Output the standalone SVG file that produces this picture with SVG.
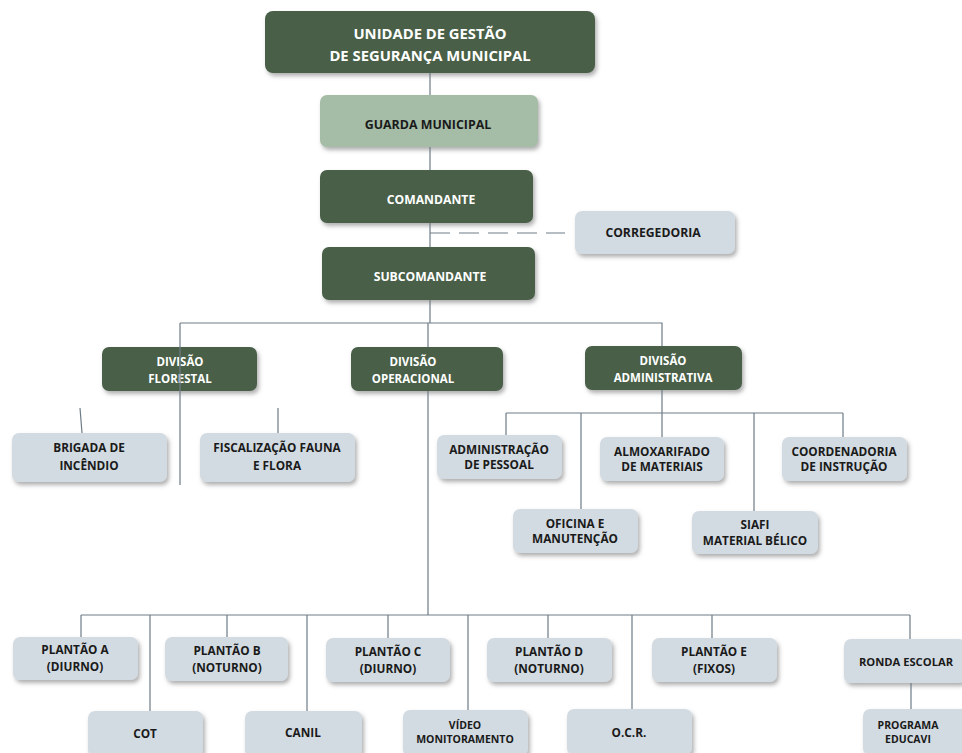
<svg xmlns="http://www.w3.org/2000/svg" width="962" height="753" viewBox="0 0 962 753">
<defs>
<filter id="sh" x="-10%" y="-20%" width="130%" height="160%">
<feDropShadow dx="2" dy="3" stdDeviation="2" flood-color="#7a7a7a" flood-opacity="0.6"/>
</filter>
<style>
.dk{fill:#485f47;filter:url(#sh)}
.lg{fill:#a5bda6;filter:url(#sh)}
.gr{fill:#d3dbe2;filter:url(#sh)}
text{font-family:"Open Sans","Liberation Sans",sans-serif;font-weight:bold;text-anchor:middle}
.w{fill:#ffffff;font-size:11.5px}
.wb{fill:#ffffff;font-size:14.8px}
.b{fill:#1a1a1a;font-size:11.8px}
.s{font-size:10.5px}
.ln{stroke:#6e7c87;stroke-width:1.2;fill:none}
</style>
</defs>
<rect width="962" height="753" fill="#ffffff"/>
<g id="n-unidade"><rect class="dk" x="265" y="11" width="330" height="62" rx="8"/><text class="wb" x="430" y="39">UNIDADE DE GESTÃO</text><text class="wb" x="430" y="61">DE SEGURANÇA MUNICIPAL</text></g>
<g id="n-guarda"><rect class="lg" x="320" y="95" width="218" height="52" rx="7"/><text class="b" x="428" y="129" style="font-size:12.4px">GUARDA MUNICIPAL</text></g>
<g id="n-comandante"><rect class="dk" x="320" y="170" width="213" height="53" rx="7"/><text class="w" x="431" y="204" style="font-size:12.2px">COMANDANTE</text></g>
<g id="n-corregedoria"><rect class="gr" x="575" y="211" width="160" height="43" rx="7"/><text class="b" x="653" y="237" style="font-size:12.2px">CORREGEDORIA</text></g>
<g id="n-subcomandante"><rect class="dk" x="322" y="247" width="213" height="53" rx="7"/><text class="w" x="430" y="281" style="font-size:12.2px">SUBCOMANDANTE</text></g>
<g id="n-florestal"><rect class="dk" x="102" y="347" width="155" height="44" rx="7"/><text class="w" x="180" y="366">DIVISÃO</text><text class="w" x="180" y="383">FLORESTAL</text></g>
<g id="n-operacional"><rect class="dk" x="351" y="347" width="152" height="44" rx="7"/><text class="w" x="413" y="366">DIVISÃO</text><text class="w" x="413" y="383">OPERACIONAL</text></g>
<g id="n-administrativa"><rect class="dk" x="585" y="346" width="157" height="44" rx="7"/><text class="w" x="663" y="365">DIVISÃO</text><text class="w" x="663" y="382">ADMINISTRATIVA</text></g>
<g id="n-brigada"><rect class="gr" x="12" y="433" width="155" height="49" rx="7"/><text class="b" x="89" y="452">BRIGADA DE</text><text class="b" x="89" y="470">INCÊNDIO</text></g>
<g id="n-fiscalizacao"><rect class="gr" x="200" y="433" width="155" height="49" rx="7"/><text class="b" x="277" y="452">FISCALIZAÇÃO FAUNA</text><text class="b" x="277" y="470">E FLORA</text></g>
<g id="n-admpessoal"><rect class="gr" x="437" y="435" width="125" height="44" rx="7"/><text class="b" x="499" y="454">ADMINISTRAÇÃO</text><text class="b" x="499" y="469">DE PESSOAL</text></g>
<g id="n-almoxarifado"><rect class="gr" x="600" y="437" width="124" height="44" rx="7"/><text class="b" x="662" y="456">ALMOXARIFADO</text><text class="b" x="662" y="471">DE MATERIAIS</text></g>
<g id="n-coordenadoria"><rect class="gr" x="782" y="437" width="125" height="44" rx="7"/><text class="b" x="844" y="456">COORDENADORIA</text><text class="b" x="844" y="471">DE INSTRUÇÃO</text></g>
<g id="n-oficina"><rect class="gr" x="513" y="509" width="125" height="44" rx="7"/><text class="b" x="575" y="528">OFICINA E</text><text class="b" x="575" y="543">MANUTENÇÃO</text></g>
<g id="n-siafi"><rect class="gr" x="692" y="511" width="126" height="43" rx="7"/><text class="b" x="755" y="529">SIAFI</text><text class="b" x="755" y="545">MATERIAL BÉLICO</text></g>
<g id="n-plantaoa"><rect class="gr" x="13" y="637" width="125" height="43" rx="7"/><text class="b" x="75" y="654">PLANTÃO A</text><text class="b" x="75" y="671">(DIURNO)</text></g>
<g id="n-plantaob"><rect class="gr" x="165" y="637" width="123" height="44" rx="7"/><text class="b" x="227" y="655">PLANTÃO B</text><text class="b" x="227" y="672">(NOTURNO)</text></g>
<g id="n-plantaoc"><rect class="gr" x="326" y="638" width="124" height="44" rx="7"/><text class="b" x="388" y="656">PLANTÃO C</text><text class="b" x="388" y="673">(DIURNO)</text></g>
<g id="n-plantaod"><rect class="gr" x="487" y="638" width="125" height="44" rx="7"/><text class="b" x="549" y="656">PLANTÃO D</text><text class="b" x="549" y="673">(NOTURNO)</text></g>
<g id="n-plantaoe"><rect class="gr" x="652" y="638" width="125" height="44" rx="7"/><text class="b" x="714" y="656">PLANTÃO E</text><text class="b" x="714" y="673">(FIXOS)</text></g>
<g id="n-ronda"><rect class="gr" x="844" y="639" width="122" height="44" rx="7"/><text class="b" x="906" y="666" style="font-size:11.2px">RONDA ESCOLAR</text></g>
<g id="n-cot"><rect class="gr" x="88" y="711" width="115" height="46" rx="7"/><text class="b" x="145" y="738">COT</text></g>
<g id="n-canil"><rect class="gr" x="245" y="711" width="117" height="46" rx="7"/><text class="b" x="303" y="737">CANIL</text></g>
<g id="n-video"><rect class="gr" x="403" y="710" width="125" height="46" rx="7"/><text class="b s" x="465" y="729">VÍDEO</text><text class="b s" x="465" y="743">MONITORAMENTO</text></g>
<g id="n-ocr"><rect class="gr" x="567" y="709" width="125" height="46" rx="7"/><text class="b" x="629" y="737">O.C.R.</text></g>
<g id="n-programa"><rect class="gr" x="863" y="709" width="105" height="46" rx="7"/><text class="b s" x="908" y="729">PROGRAMA</text><text class="b s" x="908" y="743">EDUCAVI</text></g>
<g id="connectors" class="ln">
<path d="M430 73V95M430 147V170M430 223V247M430 300V323"/>
<path d="M430 233H565" stroke-dasharray="20 9"/>
<path d="M180 323H662V346M180 323V485"/>
<path d="M428 323V347M428 391V615"/>
<path d="M80 408L82 433M278 408V433"/>
<path d="M662 390V413M506 413H843M506 413V435M581 413V509M662 413V437M754 413V511M843 413V437"/>
<path d="M81 615H910M81 615V637M150 615V711M227 615V637M307 615V711M388 615V638M468 615V710M548 615V638M632 615V709M712 615V638M910 615V639M911 683V709"/>
</g>
</svg>
